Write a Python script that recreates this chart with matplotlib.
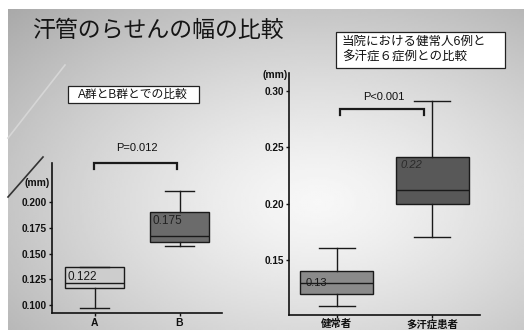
import matplotlib
matplotlib.use('Agg')
import matplotlib.pyplot as plt
import numpy as np
from matplotlib.lines import Line2D
from matplotlib.patches import Rectangle

plt.rcParams['font.family'] = ['Liberation Sans', 'Noto Sans CJK JP', 'DejaVu Sans']

W, H = 524, 330

# A群 / B群 box stats (mm)
ab_groups = ['A', 'B']
ab_q1 = [0.1164, 0.1614]
ab_med = [0.122, 0.1667]
ab_q3 = [0.1367, 0.1898]
ab_lo = [0.0977, 0.1572]
ab_hi = [0.1367, 0.2107]
ab_means = ['0.122', '0.175']
ab_p = 'P=0.012'
ab_yticks = [0.100, 0.125, 0.150, 0.175, 0.200]

# 健常者 / 多汗症患者 box stats (mm)
cmp_groups = ['健常者', '多汗症患者']
cmp_q1 = [0.1200, 0.2000]
cmp_med = [0.130, 0.2124]
cmp_q3 = [0.1402, 0.2413]
cmp_lo = [0.1090, 0.1704]
cmp_hi = [0.1604, 0.2909]
cmp_means = ['0.13', '0.22']
cmp_p = 'P<0.001'
cmp_yticks = [0.15, 0.20, 0.25, 0.30]


def px(x, y, w=0, h=0):
    # pixel box (from top-left) -> figure fraction
    return [x / W, 1 - (y + h) / H, w / W, h / H]


fig = plt.figure(figsize=(W / 100, H / 100), dpi=100, facecolor='white')

# slide background: grey shading, brightest right of centre
bg = fig.add_axes(px(8, 9, W - 8, H - 9))
gx, gy = np.meshgrid(np.linspace(0, 1, 260), np.linspace(0, 1, 160))
d = np.sqrt((gx - 0.60) ** 2 + (gy - 0.60) ** 2)
shade = 0.97 - 0.38 * d ** 1.3
bg.imshow(shade, cmap='gray', vmin=0, vmax=1, aspect='auto', extent=[0, 1, 1, 0])
bg.set_axis_off()
bg.set_zorder(-10)

# decorative diagonal strokes
fig.add_artist(Line2D([65 / W, 8 / W], [1 - 65 / H, 1 - 138 / H],
                      transform=fig.transFigure, color='#d6d6d6', lw=1.2))
fig.add_artist(Line2D([43 / W, 8 / W], [1 - 157 / H, 1 - 197 / H],
                      transform=fig.transFigure, color='#333333', lw=1.2))

fig.text(32 / W, 1 - 30 / H, '汗管のらせんの幅の比較', fontsize=16.5,
         color='#151515', va='center', ha='left')

# caption boxes
fig.add_artist(Rectangle((68 / W, 1 - 103 / H), 131 / W, 17 / H, transform=fig.transFigure,
                         facecolor='white', edgecolor='#222222', lw=0.9))
fig.text(133 / W, 1 - 94.5 / H, 'A群とB群とでの比較', fontsize=8.5,
         color='#111111', ha='center', va='center')
fig.add_artist(Rectangle((336 / W, 1 - 68 / H), 169 / W, 36 / H, transform=fig.transFigure,
                         facecolor='white', edgecolor='#222222', lw=0.9))
fig.text(342 / W, 1 - 50 / H, '当院における健常人6例と\n多汗症６症例との比較', fontsize=9,
         color='#111111', ha='left', va='center', linespacing=1.35)


def make_stats(q1, med, q3, lo, hi):
    return [dict(q1=a, med=b, q3=c, whislo=e, whishi=f, fliers=[])
            for a, b, c, e, f in zip(q1, med, q3, lo, hi)]


def style_axes(ax, ylim, yticks, fmt, groups):
    ax.set_facecolor('none')
    ax.set_xlim(0.5, 2.5)
    ax.set_ylim(*ylim)
    for s in ['top', 'right']:
        ax.spines[s].set_visible(False)
    for s in ['left', 'bottom']:
        ax.spines[s].set_linewidth(1.2)
        ax.spines[s].set_color('#111111')
    ax.set_yticks(yticks)
    ax.set_yticklabels([fmt % t for t in yticks], fontweight='bold', fontsize=7.2)
    ax.set_xticks([1, 2])
    ax.set_xticklabels(groups, fontweight='bold', fontsize=7.5)
    ax.tick_params(length=2.5, width=1, pad=1, colors='#111111')


def draw_boxes(ax, stats, faces, width):
    bp = ax.bxp(stats, positions=[1, 2], widths=width, patch_artist=True,
                showfliers=False, capwidths=width / 2,
                boxprops=dict(edgecolor='#1a1a1a', linewidth=1),
                medianprops=dict(color='#1a1a1a', linewidth=1),
                whiskerprops=dict(color='#1a1a1a', linewidth=1),
                capprops=dict(color='#1a1a1a', linewidth=1))
    for patch, fc in zip(bp['boxes'], faces):
        patch.set_facecolor(fc)


def bracket(ax, x0, x1, y, drop, text, ty):
    ax.plot([x0, x0, x1, x1], [y - drop, y, y, y - drop], color='#1a1a1a',
            lw=1.6, clip_on=False, solid_joinstyle='miter')
    ax.text((x0 + x1) / 2 + 0.02, ty, text, fontsize=8, ha='center', va='center',
            color='#111111', clip_on=False)


# left panel: A vs B
ax1 = fig.add_axes(px(52, 163, 170, 150))
draw_boxes(ax1, make_stats(ab_q1, ab_med, ab_q3, ab_lo, ab_hi), ['#cdcdcd', '#6b6b6b'], 0.7)
style_axes(ax1, (0.0926, 0.2374), ab_yticks, '%.3f', ab_groups)
bracket(ax1, 0.99, 1.965, 0.2374, 0.0058, ab_p, 0.2514)
ax1.text(0.68, ab_med[0], ab_means[0], fontsize=8.5, ha='left', va='bottom', color='#1a1a1a')
ax1.annotate(ab_means[1], xy=(1.68, ab_q3[1]), xytext=(0, -2), textcoords='offset points',
             fontsize=8.5, ha='left', va='top', color='#222222')
fig.text(37 / W, 1 - 183 / H, '(mm)', fontsize=7.5, fontweight='bold',
         ha='center', va='center', color='#111111')

# right panel: 健常者 vs 多汗症患者
ax2 = fig.add_axes(px(289, 73, 191, 241.5))
draw_boxes(ax2, make_stats(cmp_q1, cmp_med, cmp_q3, cmp_lo, cmp_hi), ['#8a8a8a', '#585858'], 0.76)
style_axes(ax2, (0.1016, 0.316), cmp_yticks, '%.2f', cmp_groups)
bracket(ax2, 1.03, 1.916, 0.2837, 0.005, cmp_p, 0.2947)
ax2.text(0.674, cmp_med[0], cmp_means[0], fontsize=8, ha='left', va='center', color='#1a1a1a')
ax2.annotate(cmp_means[1], xy=(1.663, cmp_q3[1]), xytext=(0, -2), textcoords='offset points',
             fontsize=8, ha='left', va='top', color='#2a2a2a', style='italic')
fig.text(275 / W, 1 - 75 / H, '(mm)', fontsize=7.5, fontweight='bold',
         ha='center', va='center', color='#111111')

fig.savefig('out.png', dpi=100, facecolor='white')
